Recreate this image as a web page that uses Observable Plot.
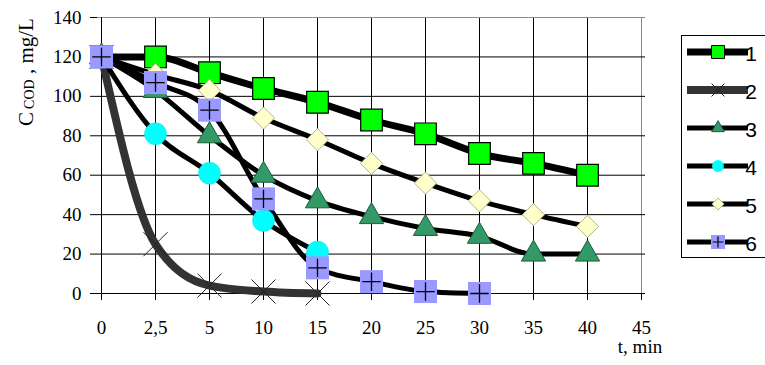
<!DOCTYPE html>
<html>
<head>
<meta charset="utf-8">
<script src="https://cdn.jsdelivr.net/npm/d3@7"></script>
<script src="https://cdn.jsdelivr.net/npm/@observablehq/plot@0.6"></script>
<style>
  html, body { margin: 0; padding: 0; background: #fff; }
  #chart { width: 765px; height: 365px; }
  #chart svg text { font-family: "Liberation Serif", "Times New Roman", serif; }
  #chart svg text.legend-label { font-family: "Liberation Sans", Arial, sans-serif; }
</style>
</head>
<body>
<div id="chart"></div>
<script>
// ---- data ----
const categories = ["0", "2,5", "5", "10", "15", "20", "25", "30", "35", "40", "45"];
const yTicks = [0, 20, 40, 60, 80, 100, 120, 140];
const seriesNames = ["1", "2", "3", "4", "5", "6"];
const s1 = [120, 120, 112, 104, 97, 88, 81, 71, 66, 60];
const s2 = [120, 25, 4, 1, 0];
const s3 = [120, 103, 80, 60, 47, 39, 33, 29, 20, 20];
const s4 = [120, 81, 61, 37, 21];
const s5 = [120, 111, 103, 89, 78, 66, 56, 47, 40, 34];
const s6 = [120, 107, 93, 48, 13, 6, 1, 0];
const xLabel = "t, min";
const yLabelMain = "C";
const yLabelSub = "COD";
const yLabelRest = " , mg/L";

const seriesValues = [s1, s2, s3, s4, s5, s6];
const rows = seriesValues.map((vals, si) =>
  vals.map((v, i) => ({series: seriesNames[si], x: categories[i], y: v}))
);

// styling per series
const lineStyle = [
  {stroke: "#000", strokeWidth: 7},
  {stroke: "#333", strokeWidth: 8},
  {stroke: "#000", strokeWidth: 5},
  {stroke: "#000", strokeWidth: 5},
  {stroke: "#000", strokeWidth: 5},
  {stroke: "#000", strokeWidth: 5}
];

const serif = "'Liberation Serif', 'Times New Roman', serif";

const marks = [
  // grid
  Plot.ruleX(categories.slice(1, -1), {stroke: "#000", strokeWidth: 1}),
  Plot.ruleX([categories[categories.length - 1]], {stroke: "#8c8c8c", strokeWidth: 1}),
  Plot.ruleY(yTicks.slice(1, -1), {stroke: "#000", strokeWidth: 1}),
  Plot.ruleY([yTicks[yTicks.length - 1]], {stroke: "#8c8c8c", strokeWidth: 1}),
  // axis lines
  Plot.ruleX([categories[0]], {stroke: "#000", strokeWidth: 1}),
  Plot.ruleY([0], {stroke: "#000", strokeWidth: 1})
];

// lines
rows.forEach((r, i) => {
  marks.push(Plot.line(r, {x: "x", y: "y", curve: "monotone-x", ...lineStyle[i]}));
});

// markers
marks.push(Plot.dot(rows[0], {x: "x", y: "y", symbol: "square", r: 12.2, fill: "#00FF00", stroke: "#000", strokeWidth: 1.2}));
marks.push(Plot.dot(rows[1], {x: "x", y: "y", symbol: "times", r: 11, fill: "none", stroke: "#222", strokeWidth: 1}));
marks.push(Plot.dot(rows[2], {x: "x", y: "y", symbol: "triangle", r: 9, fill: "#339966", stroke: "#1d5c3d", strokeWidth: 1}));
marks.push(Plot.dot(rows[3], {x: "x", y: "y", symbol: "circle", r: 11, fill: "#00FFFF", stroke: "#00dddd", strokeWidth: 0.5}));
marks.push(Plot.dot(rows[4], {x: "x", y: "y", symbol: "diamond2", r: 10, fill: "#FFFFCC", stroke: "#b5b58c", strokeWidth: 1}));
marks.push(Plot.dot(rows[5], {x: "x", y: "y", symbol: "square", r: 13, fill: "#9999FF", stroke: "none"}));
marks.push(Plot.dot(rows[5], {x: "x", y: "y", symbol: "plus", r: 6, fill: "none", stroke: "#000", strokeWidth: 1.3}));

const plot = Plot.plot({
  width: 765,
  height: 365,
  marginLeft: 97,
  marginRight: 120,
  marginTop: 17,
  marginBottom: 72,
  style: {fontFamily: serif, fontSize: "19px", color: "#000", background: "#fff"},
  x: {type: "point", domain: categories, padding: 0, tickSize: 7, tickPadding: 20, label: null},
  y: {domain: [0, 140], ticks: yTicks, tickSize: 7, tickPadding: 9, label: null},
  marks
});
document.getElementById("chart").appendChild(plot);

// ---- extra text and legend ----
const svg = d3.select(plot);

const yl = svg.append("text")
  .attr("transform", "translate(26,72) rotate(-90)")
  .attr("text-anchor", "middle")
  .attr("dominant-baseline", "central")
  .style("font-size", "21px")
  .attr("fill", "#000");
yl.append("tspan").text(yLabelMain);
yl.append("tspan").attr("font-size", "14px").attr("dx", "3").attr("dy", "3").text(yLabelSub);
yl.append("tspan").attr("dy", "-3").text(yLabelRest);

svg.append("text")
  .attr("x", 640).attr("y", 353)
  .attr("text-anchor", "middle")
  .style("font-size", "19px")
  .attr("fill", "#000")
  .text(xLabel);

const lg = svg.append("g");
lg.append("rect")
  .attr("x", 681.5).attr("y", 35.5)
  .attr("width", 110).attr("height", 222)
  .attr("fill", "#fff").attr("stroke", "#000").attr("stroke-width", 1);

const legendSym = [
  {type: d3.symbolSquare, size: 169, fill: "#00FF00", stroke: "#000", sw: 1},
  {type: d3.symbolTimes, size: 110, fill: "none", stroke: "#222", sw: 1},
  {type: d3.symbolTriangle, size: 70, fill: "#339966", stroke: "#1d5c3d", sw: 1},
  {type: d3.symbolCircle, size: 110, fill: "#00FFFF", stroke: "none", sw: 0},
  {type: d3.symbolDiamond2, size: 95, fill: "#FFFFCC", stroke: "#b5b58c", sw: 1},
  {type: d3.symbolSquare, size: 196, fill: "#9999FF", stroke: "none", sw: 0}
];

seriesNames.forEach((name, i) => {
  const cy = 52 + i * 38;
  lg.append("line")
    .attr("x1", 687).attr("x2", 748).attr("y1", cy).attr("y2", cy)
    .attr("stroke", lineStyle[i].stroke)
    .attr("stroke-width", lineStyle[i].strokeWidth);
  const s = legendSym[i];
  lg.append("path")
    .attr("transform", `translate(718,${cy})`)
    .attr("d", d3.symbol(s.type, s.size)())
    .attr("fill", s.fill).attr("stroke", s.stroke).attr("stroke-width", s.sw);
  if (i === 5) {
    lg.append("path")
      .attr("transform", `translate(718,${cy})`)
      .attr("d", d3.symbol(d3.symbolPlus, 40)())
      .attr("fill", "none").attr("stroke", "#000").attr("stroke-width", 1.2);
  }
  lg.append("text")
    .attr("class", "legend-label")
    .attr("x", 751).attr("y", cy + 1)
    .attr("dominant-baseline", "central")
    .style("font-size", "21px")
    .attr("fill", "#000")
    .text(name);
});
</script>
</body>
</html>
